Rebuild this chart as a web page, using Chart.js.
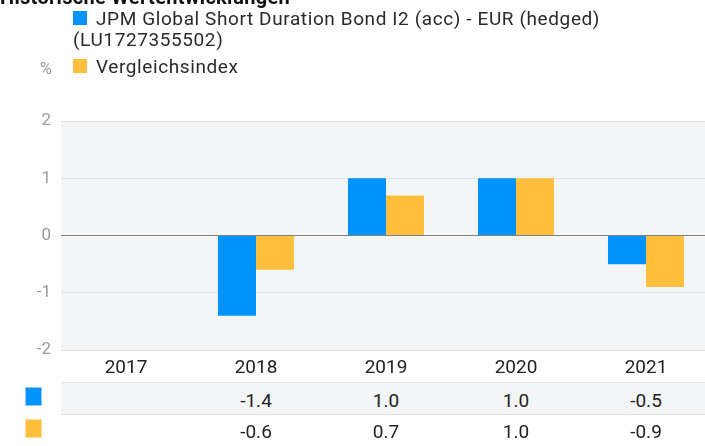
<!DOCTYPE html>
<html>
<head>
<meta charset="utf-8">
<script src="https://cdn.jsdelivr.net/npm/chart.js@4/dist/chart.umd.min.js"></script>
<style>
  html, body { margin: 0; padding: 0; background: #fff; overflow: hidden; width: 705px; height: 446px; }
  body { position: relative; font-family: Roboto, "Liberation Sans", sans-serif; color: #222; }
  #wrap { position: absolute; left: 0; top: 0; width: 705px; height: 446px; overflow: hidden; }
  canvas { position: absolute; left: 0; top: 0; }
  .abs { position: absolute; white-space: nowrap; }
  .title { left: 0; top: -13px; font-size: 20px; line-height: 20px; font-weight: bold; color: #111; letter-spacing: 0.3px; }
  .leg { font-size: 19px; line-height: 20px; color: #2a2a2a; letter-spacing: 0.6px; }
  .sw { position: absolute; width: 14px; height: 14px; }
  .pct { font-size: 16px; line-height: 20px; color: #999; }
  .band { position: absolute; left: 61px; width: 660px; height: 31px; background: #f4f5f7; border-top: 1px solid #e2e3e5; border-bottom: 1px solid #e2e3e5; }
  .cell { position: absolute; font-size: 19px; line-height: 20px; color: #222; transform: translateX(-50%); text-align: center; }
  .tsw { position: absolute; left: 25px; width: 15px; height: 17px; }
</style>
</head>
<body>
<div id="wrap">
  <canvas id="c" width="712" height="446"></canvas>
  <div class="abs title">Historische Wertentwicklungen</div>
  <div class="sw" style="left:73px;top:11px;background:#0093fb"></div>
  <div class="abs leg" style="left:96px;top:9px">JPM Global Short Duration Bond I2 (acc) - EUR (hedged)</div>
  <div class="abs leg" style="left:73px;top:30px">(LU1727355502)</div>
  <div class="abs pct" style="left:40px;top:59px">%</div>
  <div class="sw" style="left:73px;top:59px;background:#ffbe3b"></div>
  <div class="abs leg" style="left:96px;top:57px">Vergleichsindex</div>
  <div class="band" style="top:382px"></div>
  <div class="tsw" style="top:387px;background:#0093fb;border:1px solid #8cc9fd"></div>
  <div class="tsw" style="top:419px;background:#ffbe3b;border:1px solid #ffdc9a"></div>
  <div id="table"></div>
</div>
<script>
const years = ['2017', '2018', '2019', '2020', '2021'];
const fundValues = [null, -1.4, 1.0, 1.0, -0.5];
const indexValues = [null, -0.6, 0.7, 1.0, -0.9];
const fundLabel = 'JPM Global Short Duration Bond I2 (acc) - EUR (hedged) (LU1727355502)';
const indexLabel = 'Vergleichsindex';
const yTicks = [-2, -1, 0, 1, 2];

const plotBg = {
  id: 'plotBg',
  beforeDraw(chart) {
    const a = chart.chartArea, ctx = chart.ctx;
    ctx.save();
    ctx.fillStyle = '#f4f5f7';
    ctx.fillRect(a.left, a.top, a.right - a.left, a.bottom - a.top);
    ctx.restore();
  }
};

const chart = new Chart(document.getElementById('c'), {
  type: 'bar',
  data: {
    labels: years,
    datasets: [
      { label: fundLabel, data: fundValues, backgroundColor: '#0093fb' },
      { label: indexLabel, data: indexValues, backgroundColor: '#ffbe3b' }
    ]
  },
  options: {
    responsive: false,
    animation: false,
    devicePixelRatio: 1,
    layout: { padding: { top: 121, bottom: 65, left: 0, right: 1 } },
    plugins: { legend: { display: false }, tooltip: { enabled: false } },
    datasets: { bar: { categoryPercentage: 0.585, barPercentage: 1.0 } },
    scales: {
      x: {
        border: { display: false },
        grid: { display: false, drawTicks: false },
        ticks: { color: '#222', font: { family: 'Roboto', size: 19 }, padding: 7, maxRotation: 0 },
        afterFit(s) { s.height = 31; }
      },
      y: {
        min: -2, max: 2,
        border: { display: false },
        afterBuildTicks(s) { s.ticks = yTicks.map(v => ({ value: v })); },
        afterFit(s) { s.width = 61; },
        grid: {
          drawTicks: false,
          color: c => (c.tick && c.tick.value === 0) ? '#808080' : '#e2e3e5',
          lineWidth: 1
        },
        ticks: { color: '#9a9a9a', font: { family: 'Roboto', size: 17 }, padding: 10 }
      }
    }
  },
  plugins: [plotBg]
});

const table = document.getElementById('table');
const fmt = v => (v === null ? '' : v.toFixed(1));
[fundValues, indexValues].forEach((arr, r) => {
  arr.forEach((v, i) => {
    if (v === null) return;
    const d = document.createElement('div');
    d.className = 'cell';
    d.textContent = fmt(v);
    d.style.left = chart.scales.x.getPixelForValue(i) + 'px';
    d.style.top = (391 + r * 31) + 'px';
    table.appendChild(d);
  });
});
</script>
</body>
</html>
